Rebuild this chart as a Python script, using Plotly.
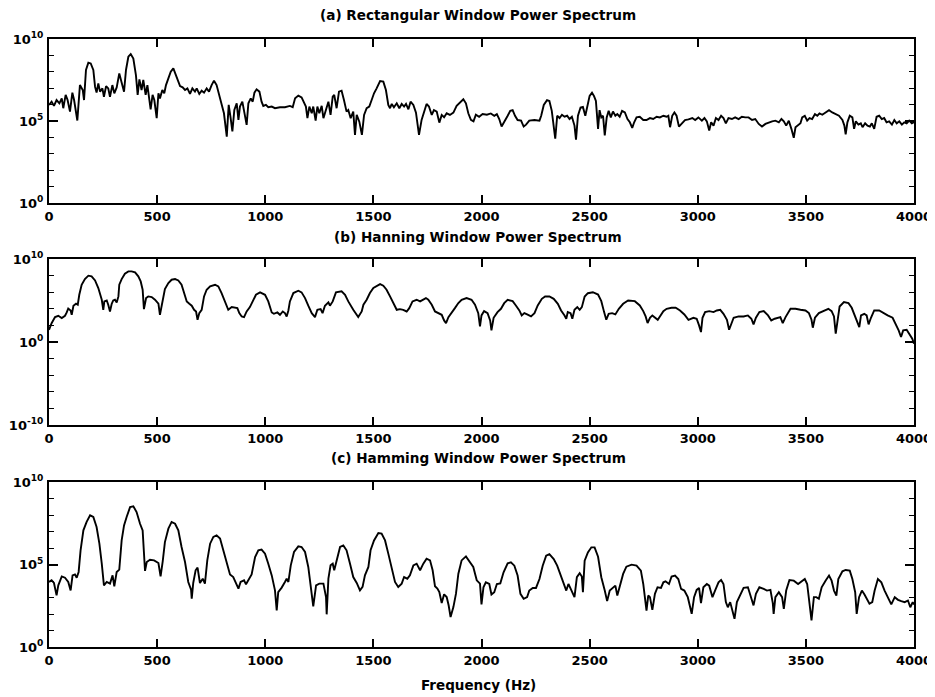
import plotly.graph_objects as go

# ---------------- data: (frequency Hz, log10 power) ----------------
rect_points = [
    (0, 5.98), (12, 6.18), (23, 5.92), (35, 6.28), (48, 6.08), (59, 6.38), (66, 5.78), (77, 6.59),
    (86, 6.28), (97, 5.57), (108, 6.73), (116, 6.28), (131, 5.03), (143, 7.19), (156, 6.89), (162, 6.28),
    (171, 8.11), (182, 8.55), (193, 8.51), (205, 8.11), (213, 7.09), (220, 6.73), (228, 7.29), (236, 6.79),
    (247, 6.99), (254, 6.48), (264, 7.13), (274, 6.99), (282, 6.48), (293, 7.19), (302, 6.69), (313, 7.05),
    (325, 7.90), (336, 7.29), (347, 6.79), (356, 8.11), (367, 8.92), (378, 9.08), (390, 8.81), (402, 7.80),
    (410, 6.59), (418, 7.54), (428, 6.89), (436, 7.50), (447, 6.59), (455, 7.19), (462, 6.48), (470, 5.71),
    (479, 6.59), (487, 6.28), (498, 5.17), (506, 6.69), (513, 6.38), (524, 6.89), (533, 6.69), (541, 7.19),
    (552, 7.60), (563, 8.00), (575, 8.21), (587, 7.80), (598, 7.40), (606, 7.13), (618, 7.05), (629, 6.89),
    (640, 6.99), (652, 6.65), (663, 6.99), (675, 6.79), (683, 6.99), (695, 6.65), (706, 6.85), (717, 6.73),
    (729, 6.99), (740, 6.79), (752, 7.19), (763, 7.46), (775, 7.19), (786, 6.59), (798, 6.08), (809, 5.47),
    (822, 4.05), (831, 5.98), (840, 5.17), (848, 4.36), (857, 5.67), (868, 6.08), (876, 5.07), (883, 5.88),
    (894, 6.18), (903, 5.47), (914, 4.76), (922, 6.08), (933, 6.38), (942, 6.18), (950, 6.73), (960, 6.93),
    (973, 6.79), (983, 6.18), (991, 5.92), (1003, 5.98), (1014, 5.84), (1030, 5.88), (1045, 5.78), (1068, 5.84),
    (1091, 5.84), (1114, 5.92), (1127, 5.84), (1138, 6.38), (1153, 6.55), (1168, 6.44), (1179, 6.12), (1188, 5.88),
    (1195, 5.17), (1204, 5.88), (1215, 5.47), (1222, 5.88), (1233, 5.03), (1241, 5.88), (1250, 5.47), (1261, 5.92),
    (1269, 5.17), (1281, 5.71), (1292, 6.18), (1302, 5.37), (1312, 6.48), (1319, 6.59), (1330, 5.78), (1341, 6.79),
    (1353, 6.85), (1364, 6.28), (1376, 5.57), (1384, 5.67), (1395, 5.17), (1407, 5.57), (1415, 4.15), (1423, 5.37),
    (1435, 4.96), (1447, 4.15), (1457, 5.37), (1469, 5.78), (1481, 5.88), (1492, 6.28), (1503, 6.69), (1515, 6.99),
    (1531, 7.44), (1546, 7.40), (1558, 6.89), (1569, 5.98), (1577, 5.78), (1585, 6.04), (1595, 5.84), (1608, 6.08),
    (1620, 5.78), (1631, 6.04), (1642, 5.88), (1651, 6.04), (1662, 5.71), (1672, 6.18), (1685, 5.98), (1697, 5.51),
    (1711, 4.15), (1723, 5.07), (1734, 5.57), (1746, 6.04), (1757, 5.88), (1770, 5.37), (1780, 5.67), (1793, 5.57),
    (1805, 4.90), (1816, 5.37), (1827, 5.23), (1839, 5.47), (1854, 5.37), (1870, 5.51), (1885, 5.92), (1901, 6.12),
    (1916, 6.32), (1928, 6.08), (1939, 5.47), (1951, 5.07), (1963, 4.98), (1974, 5.38), (1989, 5.26), (2005, 5.42),
    (2025, 5.38), (2043, 5.46), (2059, 5.32), (2071, 5.42), (2082, 5.12), (2093, 4.66), (2105, 4.92), (2121, 5.32),
    (2133, 5.62), (2144, 5.66), (2155, 5.32), (2167, 5.06), (2183, 5.02), (2195, 4.66), (2206, 4.78), (2221, 5.02),
    (2245, 5.06), (2268, 5.02), (2276, 5.32), (2288, 5.98), (2303, 6.27), (2314, 6.22), (2325, 5.62), (2334, 4.62),
    (2341, 3.92), (2350, 5.32), (2361, 5.18), (2372, 5.38), (2384, 5.26), (2396, 5.32), (2407, 5.12), (2418, 5.26),
    (2430, 4.72), (2437, 3.86), (2446, 5.32), (2458, 5.82), (2469, 5.86), (2480, 5.32), (2489, 5.92), (2500, 6.53),
    (2511, 6.73), (2520, 6.53), (2529, 6.22), (2539, 4.52), (2546, 5.66), (2554, 5.22), (2562, 5.32), (2570, 4.12),
    (2579, 5.22), (2588, 5.62), (2598, 5.22), (2608, 5.58), (2619, 5.32), (2628, 5.42), (2639, 5.26), (2650, 5.62),
    (2663, 5.52), (2675, 5.12), (2686, 4.92), (2697, 4.58), (2706, 4.92), (2717, 5.22), (2732, 5.26), (2748, 5.06),
    (2763, 5.06), (2779, 5.18), (2794, 5.12), (2810, 5.26), (2825, 5.22), (2841, 5.32), (2856, 5.26), (2864, 5.32),
    (2872, 4.62), (2882, 5.32), (2892, 5.52), (2902, 5.32), (2913, 4.66), (2926, 4.86), (2941, 5.06), (2957, 5.10),
    (2975, 5.18), (2988, 5.06), (3003, 5.22), (3019, 5.02), (3031, 5.18), (3042, 4.98), (3053, 4.42), (3062, 4.92),
    (3073, 4.72), (3084, 5.18), (3096, 5.06), (3108, 5.32), (3119, 5.18), (3130, 4.86), (3142, 5.18), (3158, 5.12),
    (3173, 5.22), (3189, 5.12), (3204, 5.26), (3220, 5.22), (3235, 5.22), (3251, 5.06), (3266, 5.12), (3282, 4.82),
    (3297, 4.66), (3313, 4.82), (3328, 4.92), (3344, 4.98), (3359, 5.02), (3375, 4.92), (3387, 5.12), (3398, 4.98),
    (3409, 4.72), (3421, 5.02), (3433, 4.52), (3444, 3.98), (3452, 4.62), (3464, 4.72), (3475, 4.86), (3483, 5.22),
    (3495, 5.32), (3506, 5.02), (3517, 5.18), (3529, 5.12), (3542, 5.42), (3553, 5.32), (3563, 5.46), (3576, 5.38),
    (3591, 5.52), (3607, 5.66), (3622, 5.52), (3638, 5.42), (3653, 5.32), (3669, 5.06), (3678, 4.72), (3684, 4.18),
    (3692, 4.92), (3703, 5.32), (3715, 5.22), (3723, 4.52), (3731, 4.98), (3743, 4.78), (3754, 4.86), (3762, 4.62),
    (3774, 4.86), (3785, 4.72), (3796, 4.66), (3805, 4.86), (3816, 4.52), (3827, 5.26), (3839, 5.32), (3851, 5.12),
    (3862, 5.18), (3873, 4.92), (3885, 4.98), (3898, 4.78), (3909, 5.06), (3920, 4.86), (3932, 4.98), (3944, 4.78),
    (3955, 4.92), (3966, 4.86), (3978, 5.02), (3990, 4.86), (4000, 4.92),
]

hanning_points = [
    (0, 1.47), (12, 2.27), (28, 3.00), (43, 3.16), (59, 2.88), (74, 3.16), (82, 3.56), (89, 4.04),
    (100, 3.80), (105, 3.28), (113, 4.37), (125, 4.61), (133, 4.49), (140, 5.69), (151, 6.90), (166, 7.58),
    (182, 7.99), (197, 7.91), (213, 7.42), (228, 6.50), (244, 5.09), (251, 3.88), (256, 4.89), (267, 5.01),
    (274, 4.49), (282, 3.68), (290, 4.61), (297, 5.01), (305, 5.09), (313, 4.77), (321, 5.49), (325, 6.90),
    (336, 7.58), (351, 8.23), (367, 8.51), (382, 8.51), (398, 8.39), (413, 7.91), (424, 7.30), (433, 6.30),
    (439, 3.96), (449, 5.29), (459, 5.49), (475, 5.41), (490, 5.09), (506, 4.61), (513, 3.28), (526, 5.29),
    (536, 6.38), (552, 7.10), (567, 7.50), (583, 7.58), (598, 7.42), (613, 6.90), (624, 6.10), (637, 4.89),
    (649, 4.61), (660, 4.37), (671, 3.88), (680, 3.68), (687, 2.68), (695, 3.48), (706, 3.88), (717, 5.49),
    (729, 6.30), (745, 6.70), (768, 6.90), (783, 6.70), (798, 5.90), (814, 4.89), (829, 3.88), (845, 4.21),
    (871, 4.08), (880, 3.48), (891, 3.08), (902, 3.00), (914, 3.68), (929, 4.21), (942, 4.89), (957, 5.69),
    (976, 5.98), (999, 5.69), (1014, 4.89), (1030, 3.56), (1040, 3.40), (1056, 3.56), (1068, 3.28), (1081, 3.68),
    (1091, 3.48), (1099, 3.08), (1107, 3.80), (1114, 4.89), (1130, 5.90), (1153, 6.18), (1168, 5.98), (1184, 5.29),
    (1199, 4.37), (1215, 3.48), (1230, 3.00), (1241, 3.88), (1256, 3.96), (1265, 3.48), (1276, 4.37), (1292, 4.77),
    (1299, 4.37), (1312, 4.89), (1327, 5.98), (1353, 6.10), (1369, 5.69), (1384, 4.89), (1407, 3.88), (1430, 3.00),
    (1446, 3.68), (1454, 4.49), (1469, 5.09), (1484, 5.90), (1500, 6.50), (1515, 6.78), (1531, 6.98), (1546, 6.78),
    (1561, 6.30), (1577, 5.49), (1592, 4.61), (1608, 3.88), (1623, 3.96), (1638, 3.88), (1654, 3.68), (1666, 4.08),
    (1681, 4.89), (1700, 5.09), (1716, 4.89), (1731, 5.09), (1743, 5.29), (1754, 5.09), (1770, 4.49), (1785, 3.68),
    (1800, 3.48), (1816, 3.28), (1827, 2.60), (1836, 2.27), (1847, 3.00), (1862, 3.48), (1877, 4.08), (1893, 4.69),
    (1908, 5.09), (1931, 5.29), (1954, 5.09), (1970, 4.49), (1985, 3.48), (1993, 1.87), (2000, 3.20), (2012, 3.72),
    (2028, 3.48), (2040, 2.60), (2046, 1.40), (2056, 2.92), (2074, 3.60), (2090, 4.00), (2105, 4.68), (2121, 5.08),
    (2144, 4.92), (2159, 4.40), (2175, 3.80), (2186, 3.20), (2198, 3.48), (2211, 3.32), (2229, 3.08), (2245, 3.48),
    (2260, 4.40), (2279, 5.20), (2294, 5.48), (2314, 5.48), (2334, 5.20), (2353, 4.60), (2368, 3.80), (2384, 3.20),
    (2392, 2.80), (2399, 3.60), (2412, 3.48), (2420, 2.80), (2430, 3.88), (2443, 4.20), (2454, 3.88), (2464, 4.20),
    (2477, 5.48), (2492, 5.88), (2515, 6.00), (2539, 5.72), (2554, 4.92), (2567, 3.60), (2577, 2.68), (2588, 3.40),
    (2604, 3.48), (2619, 3.32), (2635, 4.00), (2655, 4.60), (2678, 5.00), (2709, 4.92), (2732, 4.40), (2748, 3.72),
    (2759, 3.08), (2768, 2.28), (2779, 2.92), (2790, 3.20), (2802, 3.00), (2815, 2.68), (2825, 3.08), (2841, 3.72),
    (2856, 4.00), (2879, 4.12), (2898, 4.12), (2918, 3.80), (2938, 3.32), (2957, 2.68), (2980, 2.92), (2995, 2.80),
    (3006, 2.00), (3015, 1.20), (3022, 2.92), (3034, 3.60), (3053, 3.72), (3073, 3.60), (3088, 3.80), (3104, 3.88),
    (3119, 3.40), (3135, 2.68), (3145, 1.48), (3155, 2.28), (3166, 2.92), (3189, 3.08), (3212, 3.08), (3232, 3.20),
    (3248, 2.80), (3258, 2.12), (3269, 2.92), (3285, 3.60), (3305, 3.72), (3325, 3.20), (3340, 2.60), (3356, 2.80),
    (3371, 2.92), (3382, 3.00), (3393, 2.28), (3406, 3.00), (3429, 4.00), (3452, 4.00), (3475, 3.88), (3498, 3.80),
    (3514, 3.48), (3526, 2.68), (3532, 1.72), (3542, 2.92), (3560, 3.48), (3584, 3.80), (3604, 4.00), (3619, 3.72),
    (3630, 3.08), (3638, 1.00), (3646, 2.80), (3656, 4.28), (3676, 4.80), (3697, 4.68), (3712, 4.12), (3728, 3.08),
    (3739, 2.20), (3747, 1.80), (3755, 3.20), (3770, 3.40), (3781, 3.20), (3790, 2.12), (3801, 2.92), (3816, 3.80),
    (3839, 3.80), (3858, 3.48), (3878, 3.20), (3901, 2.92), (3916, 2.20), (3929, 1.40), (3940, 0.60), (3950, 1.40),
    (3966, 1.48), (3981, 0.92), (3992, 0.40), (4000, -0.20),
]

hamming_points = [
    (0, 3.94), (12, 4.04), (23, 3.88), (35, 3.13), (43, 3.74), (59, 4.28), (74, 4.20), (89, 3.94),
    (100, 3.43), (109, 4.34), (120, 4.40), (128, 4.20), (137, 4.55), (146, 5.86), (159, 7.07), (174, 7.58),
    (190, 7.98), (205, 7.88), (220, 7.27), (233, 6.26), (244, 5.05), (254, 3.74), (267, 3.94), (282, 3.84),
    (294, 4.34), (302, 3.68), (313, 4.55), (325, 4.69), (336, 6.46), (347, 7.37), (359, 7.88), (375, 8.48),
    (390, 8.53), (405, 8.18), (421, 7.47), (433, 7.07), (444, 4.61), (452, 5.15), (467, 5.29), (486, 5.25),
    (506, 5.09), (516, 4.28), (526, 5.21), (536, 6.36), (552, 7.17), (567, 7.58), (583, 7.47), (598, 7.07),
    (613, 6.06), (629, 5.15), (644, 3.94), (657, 3.47), (660, 2.93), (667, 3.88), (678, 4.65), (687, 4.81),
    (698, 3.88), (711, 4.14), (721, 3.84), (732, 5.25), (745, 6.26), (760, 6.67), (775, 6.77), (791, 6.57),
    (806, 5.86), (822, 5.05), (837, 4.40), (852, 4.24), (865, 3.88), (876, 3.54), (886, 3.94), (902, 4.04),
    (911, 3.80), (922, 4.04), (937, 4.40), (953, 5.45), (968, 5.86), (983, 5.90), (999, 5.66), (1014, 5.05),
    (1030, 4.34), (1045, 3.43), (1053, 2.22), (1060, 3.33), (1076, 3.60), (1091, 3.94), (1099, 4.14), (1107, 3.94),
    (1118, 4.95), (1133, 5.76), (1153, 6.10), (1168, 6.06), (1184, 5.76), (1199, 4.85), (1210, 3.84), (1222, 2.46),
    (1235, 3.74), (1250, 3.84), (1269, 3.84), (1281, 3.03), (1284, 1.98), (1292, 4.14), (1302, 4.95), (1312, 5.05),
    (1319, 4.65), (1330, 5.25), (1346, 6.06), (1361, 6.16), (1376, 5.86), (1392, 5.05), (1407, 4.24), (1423, 3.88),
    (1438, 3.43), (1450, 3.64), (1461, 4.34), (1477, 4.85), (1487, 5.86), (1503, 6.46), (1523, 6.91), (1538, 6.87),
    (1554, 6.46), (1569, 5.66), (1585, 4.85), (1600, 3.94), (1615, 3.64), (1631, 3.84), (1642, 4.24), (1657, 4.14),
    (1669, 4.34), (1685, 4.95), (1700, 5.05), (1716, 4.65), (1731, 5.05), (1746, 5.35), (1762, 5.25), (1774, 4.65),
    (1785, 3.68), (1796, 3.54), (1805, 3.33), (1816, 2.67), (1827, 3.19), (1839, 3.03), (1848, 2.53), (1857, 1.82),
    (1870, 2.42), (1882, 3.23), (1893, 4.44), (1908, 5.25), (1928, 5.49), (1947, 5.15), (1962, 4.85), (1978, 4.04),
    (1993, 3.84), (2000, 2.58), (2009, 3.62), (2020, 3.92), (2036, 3.82), (2046, 3.18), (2059, 3.32), (2071, 3.82),
    (2087, 3.86), (2102, 4.53), (2121, 5.07), (2136, 5.13), (2152, 4.93), (2167, 4.33), (2180, 3.22), (2195, 2.92),
    (2211, 3.02), (2221, 3.42), (2237, 3.58), (2252, 3.58), (2268, 4.12), (2283, 4.93), (2299, 5.53), (2314, 5.63),
    (2334, 5.33), (2350, 4.93), (2365, 4.43), (2381, 3.82), (2392, 3.42), (2402, 3.82), (2415, 3.46), (2430, 3.02),
    (2441, 4.23), (2454, 4.47), (2464, 4.27), (2469, 3.32), (2477, 5.23), (2492, 5.73), (2508, 6.04), (2523, 6.04),
    (2539, 5.47), (2554, 4.23), (2570, 3.42), (2581, 2.78), (2593, 3.42), (2608, 3.62), (2619, 3.72), (2628, 3.12),
    (2639, 3.62), (2655, 4.43), (2670, 4.87), (2694, 4.99), (2717, 4.93), (2737, 4.63), (2748, 3.82), (2755, 3.02),
    (2763, 2.21), (2771, 3.12), (2779, 3.02), (2790, 2.25), (2802, 3.22), (2814, 3.62), (2830, 3.58), (2841, 3.92),
    (2851, 3.98), (2867, 3.82), (2879, 4.27), (2895, 4.33), (2910, 4.12), (2923, 3.52), (2938, 3.42), (2954, 3.02),
    (2965, 2.41), (2972, 2.01), (2983, 3.02), (2995, 3.46), (3006, 3.58), (3015, 2.66), (3026, 3.62), (3042, 3.82),
    (3053, 3.72), (3068, 3.02), (3080, 3.42), (3096, 3.92), (3108, 4.06), (3119, 3.82), (3130, 2.72), (3139, 2.41),
    (3150, 2.72), (3161, 2.21), (3170, 1.71), (3181, 2.72), (3197, 3.12), (3212, 3.58), (3232, 3.62), (3248, 3.02),
    (3258, 2.52), (3269, 3.22), (3285, 3.62), (3305, 3.52), (3320, 3.42), (3336, 3.46), (3347, 2.66), (3351, 2.01),
    (3359, 3.02), (3375, 3.32), (3390, 3.02), (3398, 2.31), (3409, 3.42), (3424, 4.06), (3444, 4.02), (3464, 3.82),
    (3480, 3.98), (3495, 4.12), (3506, 3.82), (3517, 2.72), (3526, 1.61), (3537, 3.02), (3548, 3.02), (3560, 2.92),
    (3573, 3.62), (3591, 4.02), (3607, 4.33), (3619, 4.02), (3630, 3.42), (3641, 3.12), (3650, 4.12), (3669, 4.59),
    (3684, 4.67), (3703, 4.63), (3715, 4.12), (3728, 3.32), (3735, 2.01), (3746, 3.02), (3759, 3.42), (3771, 3.18),
    (3782, 2.86), (3794, 2.62), (3807, 2.72), (3818, 3.42), (3833, 4.12), (3849, 3.92), (3864, 3.42), (3880, 3.02),
    (3895, 2.58), (3911, 3.02), (3926, 2.86), (3941, 2.78), (3957, 2.72), (3972, 2.82), (3983, 2.41), (3994, 2.72),
    (4000, 2.58),
]

panel_titles = [
    "(a) Rectangular Window Power Spectrum",
    "(b) Hanning Window Power Spectrum",
    "(c) Hamming Window Power Spectrum",
]
x_tick_values = [0, 500, 1000, 1500, 2000, 2500, 3000, 3500, 4000]
y_exponent_ranges = [(0, 10), (-10, 10), (0, 10)]
y_major_exponents = [[0, 5, 10], [-10, 0, 10], [0, 5, 10]]
y_minor_step = [1, 2, 1]
x_label = "Frequency (Hz)"

# ---------------- figure ----------------
# The page body has an 8 px margin, so the figure is drawn 8 px in from the window edge.
PAGE_OFF = 8
W, H = 935 - PAGE_OFF, 697 - PAGE_OFF
FONT = "DejaVu Sans"

def px_x(p):
    return (p - PAGE_OFF) / W

def px_y(p):
    return 1 - (p - PAGE_OFF) / H

x_dom = [px_x(49), px_x(914)]
y_doms = [(39, 203), (259, 425), (482, 647)]

fig = go.Figure()
series = [rect_points, hanning_points, hamming_points]

for i, pts in enumerate(series):
    xs = [p[0] for p in pts]
    ys = [10 ** p[1] for p in pts]
    n = "" if i == 0 else str(i + 1)
    fig.add_trace(go.Scatter(
        x=xs, y=ys, mode="lines",
        line=dict(color="black", width=1.9),
        xaxis="x" + n, yaxis="y" + n, showlegend=False, hoverinfo="skip",
    ))
    top, bot = y_doms[i]
    lo, hi = y_exponent_ranges[i]
    exps = y_major_exponents[i]
    tick_font = dict(family=FONT, size=13, color="black", weight="bold")
    fig.update_layout(**{
        "xaxis" + n: dict(
            domain=x_dom, range=[0, 4000], anchor="y" + n, automargin=False,
            tickvals=x_tick_values, ticktext=[str(v) for v in x_tick_values],
            ticks="inside", ticklen=8, tickwidth=1.5, tickcolor="black",
            showline=True, linecolor="black", linewidth=2, mirror="ticks",
            showgrid=False, zeroline=False, tickfont=tick_font,
        ),
        "yaxis" + n: dict(
            domain=[px_y(bot), px_y(top)], type="log", range=[lo, hi], anchor="x" + n,
            automargin=False,
            tickvals=[10.0 ** e for e in exps],
            ticktext=["10<sup>%d</sup>" % e for e in exps],
            ticks="inside", ticklen=9, tickwidth=1.5, tickcolor="black",
            ticklabelstandoff=1,
            minor=dict(tickmode="linear", tick0=lo, dtick=y_minor_step[i],
                       ticks="inside", ticklen=5, tickwidth=1.2, tickcolor="black", showgrid=False),
            showline=True, linecolor="black", linewidth=2, mirror="ticks",
            showgrid=False, zeroline=False, tickfont=tick_font,
        ),
    })

annotations = []
title_y = [15, 237, 458]
for t, yy in zip(panel_titles, title_y):
    annotations.append(dict(text=t, x=px_x(478), y=px_y(yy), xref="paper", yref="paper",
                            showarrow=False, xanchor="center", yanchor="middle",
                            font=dict(family=FONT, size=13.6, color="black", weight="bold")))
annotations.append(dict(text=x_label, x=px_x(479), y=px_y(685), xref="paper", yref="paper",
                        showarrow=False, xanchor="center", yanchor="middle",
                        font=dict(family=FONT, size=13.5, color="black", weight="bold")))

fig.update_layout(
    width=W, height=H, margin=dict(l=0, r=0, t=0, b=0),
    paper_bgcolor="white", plot_bgcolor="white",
    annotations=annotations,
)

fig.write_html("out.html")
